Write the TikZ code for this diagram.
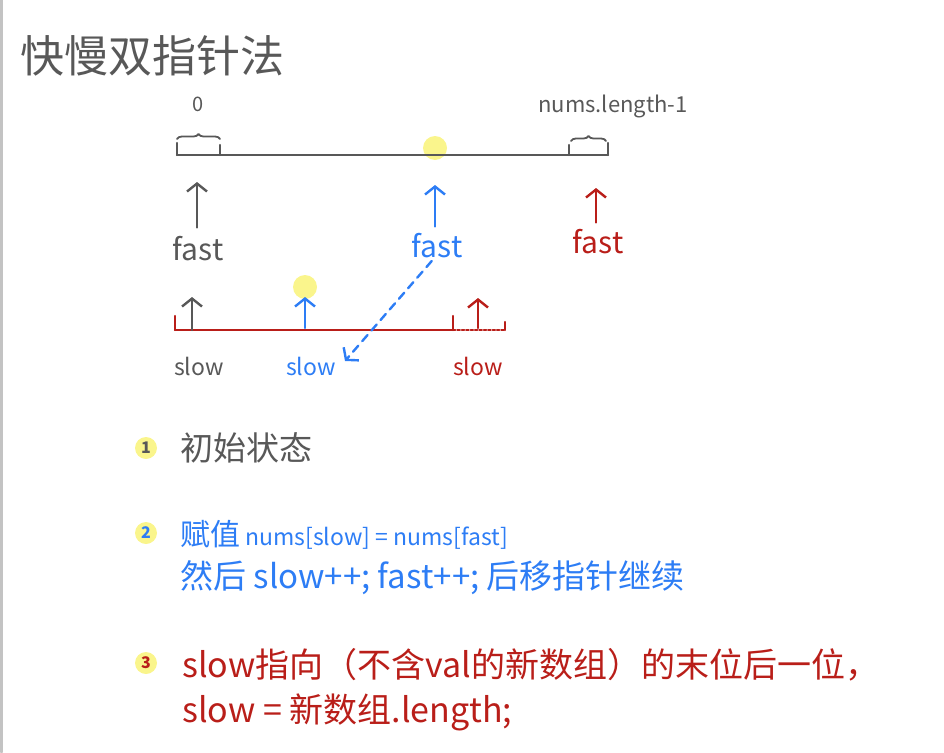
\documentclass[tikz,border=0pt]{standalone}
\usepackage{fontspec}
\setmainfont{Noto Sans CJK SC}
\usetikzlibrary{arrows.meta}
\usetikzlibrary{decorations.pathreplacing}
\tikzset{>={Straight Barb[length=8pt,width=20pt]}}
\definecolor{inkgray}{RGB}{88,88,88}
\definecolor{inkblue}{RGB}{45,125,245}
\definecolor{inkred}{RGB}{185,30,25}
\definecolor{markyellow}{RGB}{250,245,140}
\definecolor{framegray}{RGB}{195,195,195}
\tikzset{
  hand/.style={line width=2.4pt},
  brace/.style={decorate, decoration={brace, amplitude=5pt}, line width=1.8pt, inkgray},
  word/.style={inner sep=1pt, font=\fontsize{23}{27}\selectfont},
  note/.style={anchor=west, inner sep=0pt},
  dot/.style={fill=markyellow, draw=none},
}

\begin{document}
\begin{tikzpicture}[x=1pt,y=-1pt,line cap=round,line join=round]
  \useasboundingbox (0,0) rectangle (944,752);
  % 左侧边框
  \draw[line width=3pt, framegray] (1.5,0) -- (1.5,752);

  % 标题
  \node[note, inkgray, font=\fontsize{44}{48}\selectfont] (title) at (20,56) {快慢双指针法};

  % 坐标点定义
  \coordinate (A0) at (177,155);
  \coordinate (A1) at (220,155);
  \coordinate (A2) at (569,155);
  \coordinate (A3) at (608,155);
  \coordinate (M) at (435,148);
  \coordinate (S0) at (175,330);
  \coordinate (S1) at (453,330);
  \coordinate (S2) at (505,330);
  \coordinate (N) at (305,287);
  \coordinate (tipA) at (197,182);
  \coordinate (tipB) at (435,185);
  \coordinate (tipC) at (596,188);

  % 高亮点
  \fill[dot] (M) circle (12pt);
  \fill[dot] (N) circle (12pt);

  % 原数组
  \draw[hand, inkgray] (A0) -- (A3);
  \draw[hand, inkgray] (A0) -- ++(0,-12);
  \draw[hand, inkgray] (A1) -- ++(0,-10);
  \draw[hand, inkgray] (A2) -- ++(0,-10);
  \draw[hand, inkgray] (A3) -- ++(0,-12);
  \draw[brace] (177,139) -- (220,139);
  \draw[brace] (571,141) -- (606,141);
  \node[word, inkgray, font=\fontsize{20}{24}\selectfont] (zero) at (198,104) {0};
  \node[word, inkgray, font=\fontsize{22}{26}\selectfont] (last) at (613,106) {nums.length-1};

  % fast 指针
  \node[word, inkgray, font=\fontsize{30}{34}\selectfont] (fastA) at (198,249) {fast};
  \node[word, inkblue, font=\fontsize{30}{34}\selectfont] (fastB) at (437,246) {fast};
  \node[word, inkred, font=\fontsize{30}{34}\selectfont] (fastC) at (598,242) {fast};
  \draw[hand, inkgray, ->] (fastA.north -| tipA) ++(0,-8) -- (tipA);
  \draw[hand, inkblue, ->] (fastB.north -| tipB) ++(0,-6) -- (tipB);
  \draw[hand, inkred, ->] (fastC.north -| tipC) ++(0,-6) -- (tipC);

  % 新数组
  \draw[hand, inkred] (S0) -- (S1);
  \draw[hand, inkred] (S0) -- ++(0,-14);
  \draw[hand, inkred] (S1) -- ++(0,-14);
  \draw[hand, inkred, dotted] (S1) -- (S2);
  \draw[hand, inkred] (S2) -- ++(0,-8);

  % slow 指针
  \node[word, inkgray] (slowA) at (199,366) {slow};
  \node[word, inkblue] (slowB) at (311,366) {slow};
  \node[word, inkred] (slowC) at (478,366) {slow};
  \draw[hand, inkgray, ->] (192,330) -- ++(0,-33);
  \draw[hand, inkblue, ->] (305,328) -- ++(0,-31);
  \draw[hand, inkred, ->] (478,328) -- ++(0,-30);
  \draw[hand, inkblue, dash pattern=on 8pt off 6pt, ->, shorten <=2pt] ([xshift=-4pt]fastB.south) -- ([xshift=8pt,yshift=5pt]slowB.east);

  % 步骤说明
  \fill[dot] (146,448) circle (11pt);
  \fill[dot] (146,533) circle (11pt);
  \fill[dot] (146,663) circle (11pt);
  \node[inkgray, font=\bfseries\fontsize{16}{18}\selectfont] (n1) at (146,448) {1};
  \node[inkblue, font=\bfseries\fontsize{16}{18}\selectfont] (n2) at (146,533) {2};
  \node[inkred, font=\bfseries\fontsize{16}{18}\selectfont] (n3) at (146,663) {3};
  \node[note, inkgray, font=\fontsize{33}{36}\selectfont] (t1) at (180,448) {初始状态};
  \node[note, inkblue, font=\fontsize{23}{27}\selectfont] (t2) at (180,535) {{\fontsize{30}{34}\selectfont 赋值} nums[slow] = nums[fast]};
  \node[note, inkblue, font=\fontsize{33}{36}\selectfont] (t3) at (180,578) {然后 slow++; fast++; 后移指针继续};
  \node[note, inkred, font=\fontsize{34}{38}\selectfont] (t4) at (182,665) {slow指向（不含val的新数组）的末位后一位，};
  \node[note, inkred, font=\fontsize{34}{38}\selectfont] (t5) at (182,712) {slow = 新数组.length;};
\end{tikzpicture}
\end{document}
